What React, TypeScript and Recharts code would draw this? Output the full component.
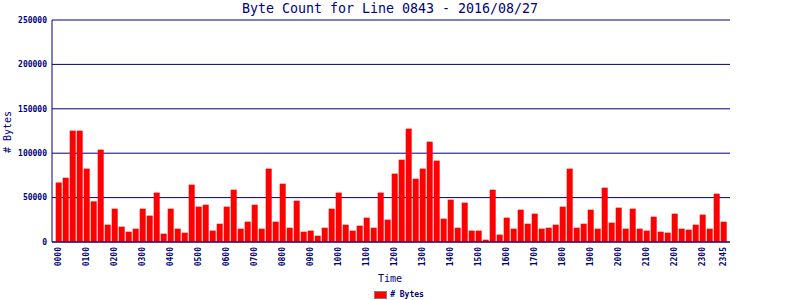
import React from 'react'
import {
  BarChart,
  Bar,
  XAxis,
  YAxis,
  CartesianGrid,
  Legend,
} from 'recharts'

// 15-minute slots, 0000 .. 2345
const times: string[] = Array.from({ length: 96 }, (_, i) => {
  const h = String(Math.floor(i / 4)).padStart(2, '0')
  const m = String((i % 4) * 15).padStart(2, '0')
  return h + m
})

const bytes: number[] = [
  67000, 72400, 125400, 125400, 82600, 45800, 104000, 19500, 37500, 17300,
  11600, 15000, 37500, 29700, 55600, 9400, 37500, 15000, 10500, 64600,
  39800, 42000, 12800, 20600, 39800, 58900, 15000, 22900, 42000, 15000,
  82600, 22900, 65700, 16100, 46500, 11600, 12800, 7100, 16100, 37500,
  55600, 19500, 12800, 18400, 27400, 16100, 55600, 25200, 77000, 92700,
  127600, 71300, 82600, 113000, 91600, 26300, 47700, 16100, 44300, 12800,
  12800, 2600, 58900, 8300, 27400, 15000, 36400, 20600, 31900, 15000,
  16100, 19500, 39800, 82600, 16100, 20600, 36400, 15000, 61200, 21800,
  38700, 15000, 37500, 15000, 12800, 28500, 11600, 10500, 31900, 15000,
  13900, 19500, 30800, 15000, 54400, 22900,
]

const xTicks: string[] = [
  '0000', '0100', '0200', '0300', '0400', '0500', '0600', '0700',
  '0800', '0900', '1000', '1100', '1200', '1300', '1400', '1500',
  '1600', '1700', '1800', '1900', '2000', '2100', '2200', '2300', '2345',
]

const yTicks: number[] = [0, 50000, 100000, 150000, 200000, 250000]

const data = times.map((time, i) => ({ time, bytes: bytes[i] }))

const NAVY = '#000080'
const MONO = '"DejaVu Sans Mono", monospace'

interface TimeTickProps {
  x?: number
  y?: number
  payload?: { value: string }
}

const TimeTick = ({ x = 0, y = 0, payload }: TimeTickProps) => (
  <g transform={`translate(${x},${y + 5})`}>
    <text
      x={0}
      y={0}
      dy="0.35em"
      transform="rotate(-90)"
      textAnchor="end"
      fontFamily={MONO}
      fontSize={8}
      fontWeight="bold"
      fill={NAVY}
    >
      {payload?.value}
    </text>
  </g>
)

// legend sits centred on the whole image, not on the plot
const LegendContent = () => (
  <div
    style={{
      display: 'flex',
      justifyContent: 'center',
      alignItems: 'center',
      height: 10,
      paddingTop: 6,
      paddingLeft: 68,
    }}
  >
    <span
      style={{
        display: 'inline-block',
        width: 11,
        height: 6,
        background: '#ff0000',
        border: '1px solid #808080',
        marginRight: 3,
      }}
    />
    <span
      style={{
        fontFamily: MONO,
        fontSize: 8,
        fontWeight: 'bold',
        color: NAVY,
        lineHeight: '10px',
      }}
    >
      # Bytes
    </span>
  </div>
)

export default function App() {
  return (
    <div style={{ position: 'absolute', left: 0, top: 0, background: '#fff' }}>
      <BarChart
        width={800}
        height={300}
        data={data}
        margin={{ top: 20, right: 70, left: 0, bottom: 0 }}
        barCategoryGap="10%"
      >
        <CartesianGrid vertical={false} stroke={NAVY} strokeWidth={1} />
        <XAxis
          dataKey="time"
          ticks={xTicks}
          interval={0}
          tick={<TimeTick />}
          tickLine={false}
          tickSize={0}
          tickMargin={0}
          axisLine={{ stroke: NAVY }}
          height={42}
          padding={{ left: 3, right: 3 }}
        />
        <YAxis
          domain={[0, 250000]}
          ticks={yTicks}
          width={52}
          tickLine={false}
          tickSize={4}
          tickMargin={1}
          axisLine={{ stroke: NAVY }}
          tick={{
            fontFamily: MONO,
            fontSize: 8,
            fontWeight: 'bold',
            fill: NAVY,
          }}
        />
        <YAxis
          yAxisId="right"
          orientation="right"
          domain={[0, 250000]}
          width={0}
          tick={false}
          tickLine={false}
          axisLine={{ stroke: NAVY }}
        />
        <Legend verticalAlign="bottom" height={16} content={<LegendContent />} />
        <Bar dataKey="bytes" name="# Bytes" fill="#ff0000" isAnimationActive={false} />
        <text
          x={390}
          y={13}
          textAnchor="middle"
          fontFamily={MONO}
          fontSize={13.3}
          fill={NAVY}
        >
          Byte Count for Line 0843 - 2016/08/27
        </text>
        <text
          transform="translate(10.5,132) rotate(-90)"
          textAnchor="middle"
          fontFamily={MONO}
          fontSize={10}
          fill={NAVY}
        >
          # Bytes
        </text>
        <text
          x={390}
          y={282}
          textAnchor="middle"
          fontFamily={MONO}
          fontSize={10}
          fill={NAVY}
        >
          Time
        </text>
      </BarChart>
    </div>
  )
}
